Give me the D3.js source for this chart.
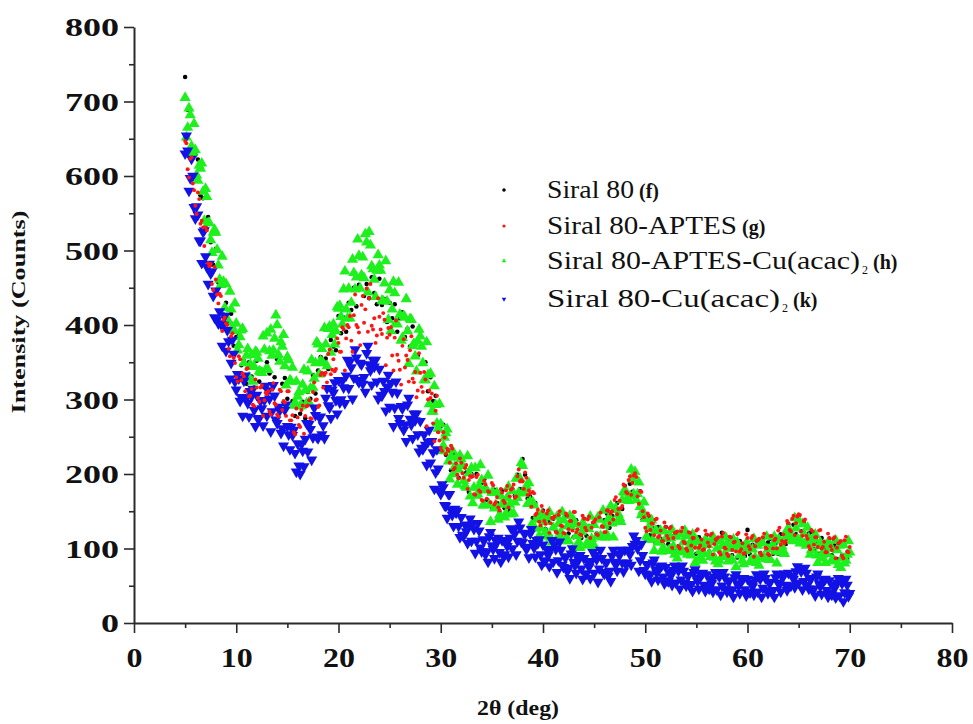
<!DOCTYPE html>
<html><head><meta charset="utf-8">
<script src="https://cdn.jsdelivr.net/npm/d3@7"></script>
<style>body{margin:0;background:#fff}svg{display:block}</style>
</head><body><svg id="c" width="973" height="724"></svg>
<script>
// ---------- DATA ----------
const seriesNames = ["Siral 80", "Siral 80-APTES", "Siral 80-APTES-Cu(acac)", "Siral 80-Cu(acac)"];
const seriesSubs  = ["", "", "2", "2"];
const seriesTags  = ["(f)", "(g)", "(h)", "(k)"];
const xTicks = [0, 10, 20, 30, 40, 50, 60, 70, 80];
const yTicks = [0, 100, 200, 300, 400, 500, 600, 700, 800];
const xMinor = [5, 15, 25, 35, 45, 55, 65, 75];
const yMinor = [50, 150, 250, 350, 450, 550, 650, 750];
// readings on the 0.25° grid (5 … 70) and on the in-between grid (5.125 … 69.875)
const gridStart = 5, gridEnd = 70, gridStep = 0.25, midStart = 5.125, midEnd = 69.875;

const siral80 = [
733,689,688,631, 629,622,574,570, 531,545,511,481, 502,457,455,414, 430,403,415,372,
384,386,346,352, 321,350,331,316, 352,324,340,316, 350,335,360,330, 354,359,321,329,
301,324,298,278, 307,281,297,275, 310,301,333,308, 339,357,334,355, 341,380,371,366,
412,389,410,391, 430,420,450,425, 454,467,439,455, 436,464,443,428, 462,427,435,404,
430,409,428,391, 409,417,384,395, 371,398,376,359, 392,349,350,311, 330,298,305,257,
264,266,226,232, 205,228,208,195, 223,193,202,176, 200,181,200,170, 188,193,165,175,
155,179,161,149, 178,154,170,151, 180,171,199,180, 220,199,167,169, 141,161,141,128,
151,126,137,116, 140,124,144,118, 138,143,120,131, 115,138,122,114, 140,117,130,111,
134,120,140,118, 138,147,128,144, 133,161,153,153, 184,168,187,176, 204,174,177,139,
143,143,118,127, 108,129,113,105, 129,106,117,99, 119,103,121,98, 116,119,97,109,
93,115,101,95, 118,96,108,91, 111,96,121,91, 108,112,91,103, 88,110,96,90,
125,92,105,88, 109,94,112,90, 108,113,93,107, 93,119,108,106, 133,116,132,119,
144,123,135,108, 120,122,99,110, 93,114,98,91, 113,91,104,86, 107,91,108,86,
95];

const siral80Aptes = [
647,609,623,590, 560,578,536,531, 531,483,482,447, 461,429,439,407, 402,368,385,356,
330,358,326,331, 341,304,314,291, 316,297,319,299, 307,284,313,295, 280,313,286,296,
311,272,279,253, 276,263,292,278, 292,275,310,299, 290,333,316,336, 361,334,354,341,
376,364,394,382, 397,379,413,400, 390,427,403,449, 436,399,409,386, 411,388,407,383,
387,359,383,360, 340,372,343,353, 366,328,337,312, 336,310,327,300, 302,268,285,256,
235,256,227,231, 238,206,214,194, 215,195,212,192, 196,173,196,178, 165,191,167,176,
188,159,169,151, 175,161,184,170, 181,168,197,190, 190,202,172,174, 176,145,152,131,
150,133,151,134, 141,122,145,131, 121,147,126,137, 149,122,133,118, 140,124,143,128,
136,119,142,130, 122,151,134,150, 165,146,164,157, 184,174,197,188, 201,170,177,150,
128,147,125,133, 139,115,124,110, 129,113,129,114, 121,103,123,109, 100,122,104,114,
124,101,112,99, 119,103,120,106, 113,95,116,101, 93,116,98,109, 119,96,107,94,
114,99,117,103, 111,94,115,101, 93,117,100,113, 124,105,119,110, 134,123,144,134,
146,123,137,117, 103,125,105,115, 124,100,109,95, 114,98,115,101, 108,90,111,96,
102];
const siral80AptesMid = [
644,598,625,581, 549,569,540,506, 527,479,455,478, 441,442,392,410, 400,358,389,349,
324,354,335,311, 342,305,293,327, 302,316,278,309, 311,280,322,293, 277,311,298,278,
311,272,256,288, 266,286,254,291, 299,274,323,300, 292,336,333,323, 367,340,338,382,
364,397,339,400, 412,364,441,397, 373,439,421,391, 455,394,376,436, 394,416,346,396,
397,339,406,352, 320,381,359,324, 385,323,303,362, 317,337,264,312, 308,244,305,245,
231,249,234,215, 234,208,199,221, 201,208,180,197, 197,172,199,176, 164,186,177,162,
185,162,155,180, 164,178,155,179, 186,170,206,192, 180,195,178,156, 174,147,136,157,
137,147,121,141, 143,121,150,130, 120,144,137,124, 149,126,119,144, 128,139,114,135,
139,118,148,129, 122,151,147,139, 169,153,154,186, 176,192,172,198, 196,160,176,142,
123,144,134,118, 140,117,110,135, 117,127,101,121, 123,100,128,107, 97,121,114,101,
126,104,98,124, 108,118,92,112, 115,92,121,100, 90,115,108,96, 121,99,93,119,
103,114,89,110, 113,91,120,100, 91,117,111,100, 128,110,107,137, 125,140,118,143,
145,117,139,113, 99,123,115,102, 125,102,95,120, 103,113,87,107, 110,87,116,95];

const siral80AptesCu = [
705,665,682,631, 635,594,610,579, 583,537,514,524, 524,480,454,458, 455,405,421,392,
402,373,393,349, 359,330,360,344, 363,338,336,367, 389,365,359,382, 400,351,371,345,
357,326,343,296, 304,291,320,312, 338,315,316,349, 374,352,349,374, 395,363,401,392,
422,411,448,421, 449,430,470,464, 493,467,463,511, 525,479,461,473, 480,433,456,432,
447,421,443,401, 414,383,410,392, 408,372,358,378, 385,349,326,333, 335,284,293,261,
267,238,255,217, 224,200,222,206, 220,191,182,201, 208,182,171,184, 192,158,178,159,
175,154,175,145, 159,142,168,159, 177,162,168,194, 211,179,160,163, 162,127,145,127,
140,122,142,114, 128,110,133,122, 138,114,110,129, 138,117,109,122, 132,104,126,113,
132,116,139,115, 131,119,142,134, 152,136,141,165, 175,168,170,193, 203,173,156,150,
140,112,126,112, 124,108,124,101, 113,97,114,103, 116,96,95,109, 117,99,91,103,
110,87,104,93, 109,93,110,88, 100,84,103,92, 106,86,85,100, 108,91,84,97,
105,82,99,88, 104,89,107,86, 99,85,105,96, 111,95,97,116, 127,114,111,127,
138,110,120,104, 114,98,113,91, 103,87,104,93, 106,85,83,98, 104,87,80,92,
95];
const siral80AptesCuMid = [
652,691,640,670, 601,614,617,540, 572,537,497,528, 501,461,492,423, 404,445,397,429,
366,384,395,328, 368,347,324,364, 355,337,385,340, 340,394,366,413, 360,377,387,319,
353,324,292,324, 310,292,340,295, 296,353,328,377, 334,368,396,345, 398,387,374,424,
426,401,472,409, 409,488,448,515, 449,491,522,444, 507,475,438,494, 473,432,486,407,
392,458,403,457, 379,412,435,348, 407,375,338,394, 371,326,377,294, 284,318,268,294,
231,249,260,193, 232,210,186,225, 211,184,224,170, 161,208,173,212, 158,181,198,136,
175,158,139,170, 163,147,183,146, 147,194,175,215, 174,184,188,132, 158,139,117,146,
136,116,149,108, 103,143,116,149, 110,130,144,98, 133,118,101,134, 127,109,143,104,
101,142,117,151, 115,139,157,115, 154,146,136,176, 176,164,206,173, 165,189,145,162,
116,129,138,97, 123,110,96,123, 114,98,125,92, 87,119,97,124, 92,108,119,81,
109,97,84,112, 105,89,116,83, 79,110,89,115, 83,100,112,75, 104,92,79,107,
100,85,113,81, 77,109,88,116, 85,103,116,80, 111,103,93,125, 122,110,141,112,
107,133,107,128, 92,108,119,81, 108,95,81,108, 100,84,111,78, 74,105,84,110];

const siral80Cu = [
630,634,597,600, 543,548,513,525, 492,455,469,439, 446,402,401,400, 365,378,349,361,
313,328,303,325, 302,277,304,286, 306,275,288,299, 278,301,284,305, 268,285,261,286,
264,233,252,228, 241,200,231,247, 230,260,249,279, 248,277,265,302, 292,275,309,299,
326,300,316,332, 315,343,329,356, 323,347,330,362, 347,320,344,324, 341,305,311,317,
290,310,289,309, 268,288,266,293, 274,248,272,253, 271,233,239,243, 215,229,202,207,
173,182,157,173, 152,130,148,130, 142,117,123,130, 110,126,110,124, 96,111,96,116,
104,87,108,95, 111,92,103,114, 100,120,110,128, 108,120,102,120, 107,89,107,92,
105,84,91,99, 82,99,84,98, 75,89,74,93, 82,67,85,73, 87,66,75,83,
67,85,73,87, 66,82,70,90, 82,70,91,81, 98,81,92,103, 106,100,84,91,
66,79,65,81, 72,58,75,62, 75,56,63,71, 54,70,58,70, 50,64,52,68,
60,46,64,51, 65,46,53,62, 45,62,50,62, 42,57,45,61, 53,40,58,45,
59,41,49,58, 42,59,47,60, 40,55,44,61, 54,42,62,51, 67,50,59,69,
54,69,56,67, 46,60,46,62, 53,39,57,44, 57,38,46,54, 37,53,41,51,
40];
const siral80CuMid = [
654,580,623,558, 559,513,483,527, 478,482,472,410, 407,418,372,412, 393,328,380,324,
334,298,278,332, 295,311,314,264, 274,298,265,318, 312,257,319,273, 290,255,238,293,
253,263,259,203, 211,240,210,268, 267,219,289,250, 276,253,248,315, 289,313,323,281,
296,325,295,353, 351,301,367,326, 349,321,310,372, 339,353,353,301, 306,325,285,333,
322,264,324,275, 291,259,244,302, 266,281,281,230, 235,253,212,259, 244,180,233,178,
186,158,141,173, 145,153,151,115, 118,132,107,140, 133,94,134,101, 112,92,82,122,
99,111,114,82, 90,109,89,127, 125,92,136,109, 121,99,88,126, 101,111,112,78,
83,99,76,111, 105,68,109,78, 89,69,60,100, 77,89,91,59, 66,82,60,95,
91,55,98,68, 81,63,56,98, 78,93,98,69, 78,98,78,117, 111,70,106,71,
79,64,56,85, 67,76,77,53, 57,68,51,77, 74,46,77,54, 64,49,43,72,
56,65,67,43, 48,59,42,68, 65,38,68,46, 56,42,35,65, 49,59,60,37,
42,54,38,65, 62,35,66,44, 54,41,35,66, 51,62,66,44, 50,63,48,76,
73,45,74,51, 59,44,37,66, 49,58,59,35, 40,51,34,60, 57,29,59,36];

// ---------- CHART ----------
const twoTheta = d3.range(gridStart, gridEnd + 1e-6, gridStep);
const twoThetaMid = d3.range(midStart, midEnd + 1e-6, gridStep);
const svg = d3.select("#c");
const FONT = "'Liberation Serif','Times New Roman',serif";
const x = d3.scaleLinear().domain([0, 80]).range([134, 952]);
const y = d3.scaleLinear().domain([0, 800]).range([623, 27]);

const styles = [
  {color: "#000000", sym: d3.symbolCircle, size: 16, legSize: 10},
  {color: "#ff1414", sym: d3.symbolCircle, size: 12, legSize: 8},
  {color: "#1ef01e", sym: d3.symbolTriangle, size: 54, legSize: 9, rot: 0},
  {color: "#1212e6", sym: d3.symbolTriangle, size: 54, legSize: 9, rot: 180}
];
// each series: list of [xs, values]
const seriesData = [
  [[twoTheta, siral80]],
  [[twoTheta, siral80Aptes], [twoThetaMid, siral80AptesMid]],
  [[twoTheta, siral80AptesCu], [twoThetaMid, siral80AptesCuMid]],
  [[twoTheta, siral80Cu], [twoThetaMid, siral80CuMid]]
];
const drawOrder = [0, 2, 3, 1];

const plot = svg.append("g");
drawOrder.forEach(i => {
  const st = styles[i];
  const sym = d3.symbol().type(st.sym).size(st.size);
  const pts = [];
  seriesData[i].forEach(([xs, vals]) => vals.forEach((v, j) => pts.push([xs[j], v])));
  plot.append("g").selectAll("path").data(pts).join("path")
    .attr("d", sym)
    .attr("fill", st.color)
    .attr("transform", p => `translate(${x(p[0])},${y(p[1])})` + (st.rot ? ` rotate(${st.rot})` : ""));
});

// axes
const axisColor = "#2a2a2a";
const yAxis = svg.append("g").attr("transform", `translate(${x(0)},0)`)
  .call(d3.axisLeft(y).tickValues(yTicks).tickSize(10).tickSizeOuter(0).tickPadding(5));
svg.append("g").attr("transform", `translate(${x(0)},0)`)
  .call(d3.axisLeft(y).tickValues(yMinor).tickSize(5).tickSizeOuter(0).tickFormat(""))
  .select(".domain").remove();
yAxis.selectAll("text")
  .attr("font-family", FONT).attr("font-weight", "bold").attr("font-size", 25)
  .attr("fill", "#111")
  .attr("dy", "0.34em")
  .attr("textLength", d => String(d).length * 18)
  .attr("lengthAdjust", "spacingAndGlyphs");

const xAxis = svg.append("g").attr("transform", `translate(0,${y(0)})`)
  .call(d3.axisBottom(x).tickValues(xTicks).tickSize(10).tickSizeOuter(0));
svg.append("g").attr("transform", `translate(0,${y(0)})`)
  .call(d3.axisBottom(x).tickValues(xMinor).tickSize(5).tickSizeOuter(0).tickFormat(""))
  .select(".domain").remove();
xAxis.selectAll("text")
  .attr("font-family", FONT).attr("font-weight", "bold").attr("font-size", 28)
  .attr("fill", "#111")
  .attr("y", 44).attr("dy", null)
  .attr("textLength", d => String(d).length * 16)
  .attr("lengthAdjust", "spacingAndGlyphs");

svg.selectAll(".domain").attr("stroke", axisColor).attr("stroke-width", 2);
svg.selectAll(".tick line").attr("stroke", axisColor).attr("stroke-width", 1.6);

// axis titles
svg.append("text")
  .attr("transform", "translate(25,312) rotate(-90)")
  .attr("text-anchor", "middle")
  .attr("font-family", FONT).attr("font-weight", "bold").attr("font-size", 18)
  .attr("textLength", 203).attr("lengthAdjust", "spacingAndGlyphs")
  .attr("fill", "#111")
  .text("Intensity (Counts)");
svg.append("text")
  .attr("x", 518).attr("y", 715)
  .attr("text-anchor", "middle")
  .attr("font-family", FONT).attr("font-weight", "bold").attr("font-size", 22)
  .attr("textLength", 82).attr("lengthAdjust", "spacingAndGlyphs")
  .attr("fill", "#111")
  .text("2θ (deg)");

// legend
const legRows = [190, 226, 261, 299];
const legBase = [198, 234, 269, 307];
const legNameW = [87, 190, 313, 233];
const legend = svg.append("g");
seriesNames.forEach((name, i) => {
  const st = styles[i];
  legend.append("path")
    .attr("d", d3.symbol().type(st.sym).size(st.legSize))
    .attr("fill", st.color)
    .attr("transform", `translate(504,${legRows[i]})` + (st.rot ? " rotate(180)" : ""));
  legend.append("text")
    .attr("x", 547).attr("y", legBase[i])
    .attr("font-family", FONT).attr("font-size", 25).attr("fill", "#111")
    .attr("textLength", legNameW[i]).attr("lengthAdjust", "spacingAndGlyphs")
    .text(name);
  let xEnd = 547 + legNameW[i];
  if (seriesSubs[i]) {
    legend.append("text")
      .attr("x", xEnd + 2).attr("y", legBase[i] + 5)
      .attr("font-family", FONT).attr("font-size", 12).attr("fill", "#111")
      .text(seriesSubs[i]);
    xEnd += 8;
  }
  legend.append("text")
    .attr("x", xEnd + 5).attr("y", legBase[i])
    .attr("font-family", FONT).attr("font-weight", "bold").attr("font-size", 20).attr("fill", "#111")
    .text(seriesTags[i]);
});
</script>
</body></html>
